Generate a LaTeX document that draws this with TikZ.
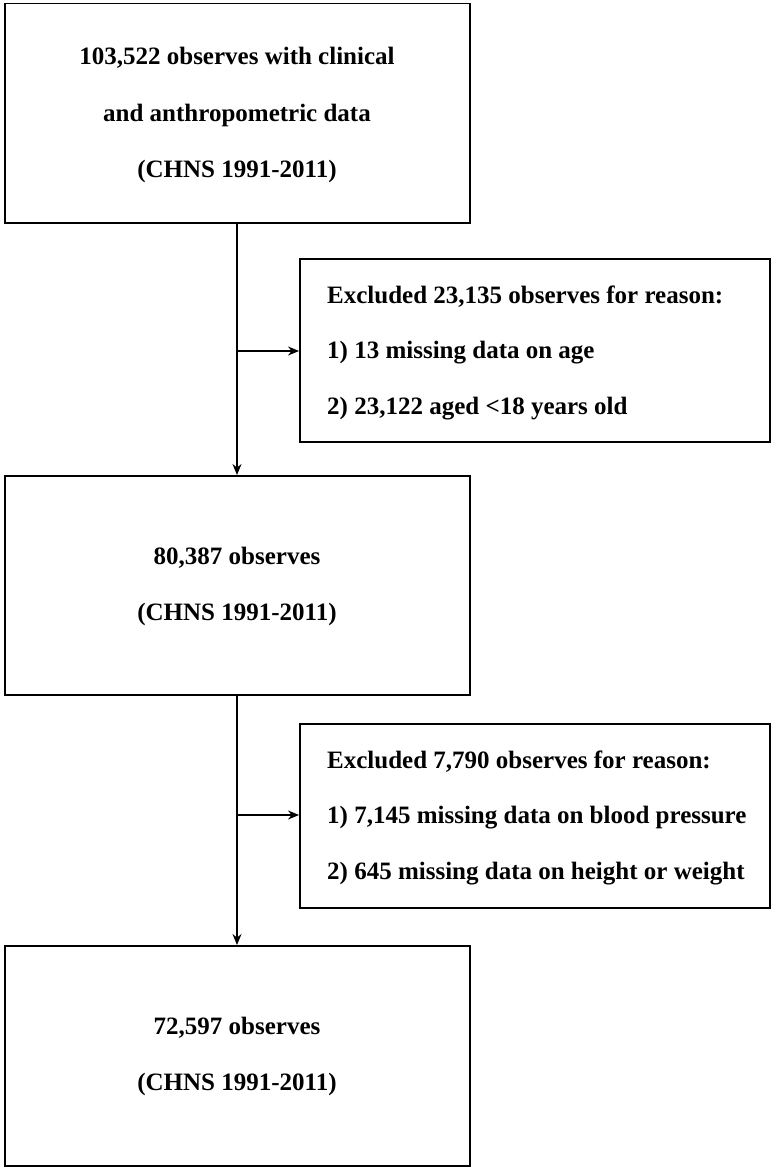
\documentclass[tikz,border=0pt]{standalone}
\usepackage{fontspec}
\setmainfont{Liberation Serif}
\usetikzlibrary{arrows.meta}
\begin{document}
\begin{tikzpicture}[x=1pt,y=-1pt,
  box/.style={draw,line width=1.5pt,anchor=north west,inner sep=0pt},
  txt/.style={font=\fontsize{25}{28}\selectfont\bfseries,inner sep=0pt},
  lt/.style={txt,anchor=west},
  arr/.style={line width=1.3pt,-{Stealth[length=11pt,width=9pt]}}]
\useasboundingbox (0,0) rectangle (774,1169);
\node[box,minimum width=465pt,minimum height=219pt] (b1) at (4,3) {};
\node[box,minimum width=470pt,minimum height=183pt] (b2) at (299,258) {};
\node[box,minimum width=465pt,minimum height=219pt] (b3) at (4,475) {};
\node[box,minimum width=470pt,minimum height=184pt] (b4) at (299,723) {};
\node[box,minimum width=465pt,minimum height=220pt] (b5) at (4,945) {};
\node[txt] (t11) at (237,58) {103,522 observes with clinical};
\node[txt] (t12) at (237,115) {and anthropometric data};
\node[txt] (t13) at (237,171) {(CHNS 1991-2011)};
\node[lt] (t21) at (327,297) {Excluded 23,135 observes for reason:};
\node[lt] (t22) at (327,353) {1) 13 missing data on age};
\node[lt] (t23) at (327,409) {2) 23,122 aged <18 years old};
\node[txt] (t31) at (237,558) {80,387 observes};
\node[txt] (t32) at (237,614) {(CHNS 1991-2011)};
\node[lt] (t41) at (327,762) {Excluded 7,790 observes for reason:};
\node[lt] (t42) at (327,818) {1) 7,145 missing data on blood pressure};
\node[lt] (t43) at (327,874) {2) 645 missing data on height or weight};
\node[txt] (t51) at (237,1028) {72,597 observes};
\node[txt] (t52) at (237,1084) {(CHNS 1991-2011)};
\coordinate (j1) at (237,351);
\coordinate (j2) at (237,815);
\draw[arr] (b1.south -| j1) -- (b3.north -| j1);
\draw[arr] (j1) -- (j1 -| b2.west);
\draw[arr] (b3.south -| j2) -- (b5.north -| j2);
\draw[arr] (j2) -- (j2 -| b4.west);
\end{tikzpicture}
\end{document}
